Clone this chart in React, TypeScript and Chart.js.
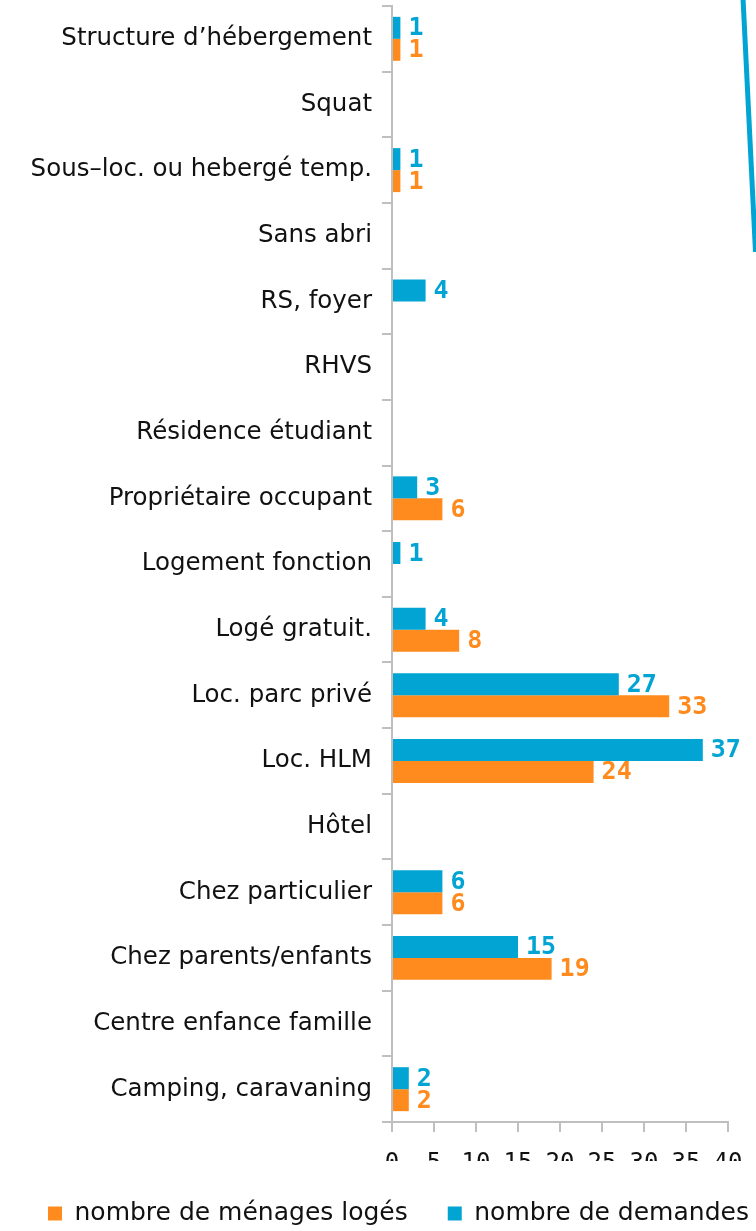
import React, { useEffect, useRef } from 'react';
import { Chart, registerables } from 'chart.js';

Chart.register(...registerables);

const categories = [
  'Structure d’hébergement',
  'Squat',
  'Sous–loc. ou hebergé temp.',
  'Sans abri',
  'RS, foyer',
  'RHVS',
  'Résidence étudiant',
  'Propriétaire occupant',
  'Logement fonction',
  'Logé gratuit.',
  'Loc. parc privé',
  'Loc. HLM',
  'Hôtel',
  'Chez particulier',
  'Chez parents/enfants',
  'Centre enfance famille',
  'Camping, caravaning',
];

const demandes = [1, 0, 1, 0, 4, 0, 0, 3, 1, 4, 27, 37, 0, 6, 15, 0, 2];
const menagesLoges = [1, 0, 1, 0, 0, 0, 0, 6, 0, 8, 33, 24, 0, 6, 19, 0, 2];

const seriesNames = ['nombre de demandes', 'nombre de ménages logés'];

const xMin = 0;
const xMax = 40;
const xStep = 5;

const BLUE = '#02A4D3';
const ORANGE = '#FF8B1E';
const AXIS_GRAY = '#BFBFBF';
const LABEL_FONT = '"DejaVu Sans", sans-serif';
const NUM_FONT = '"DejaVu Sans Mono", monospace';

const W = 880;
const H = 1236;

const valueLabels = {
  id: 'valueLabels',
  afterDatasetsDraw(chart: any) {
    const ctx = chart.ctx;
    ctx.save();
    ctx.font = `bold 25px ${NUM_FONT}`;
    ctx.textAlign = 'left';
    ctx.textBaseline = 'middle';
    chart.data.datasets.forEach((ds: any, di: number) => {
      const meta = chart.getDatasetMeta(di);
      meta.data.forEach((bar: any, i: number) => {
        const v = ds.data[i];
        if (!v) return;
        ctx.fillStyle = ds.backgroundColor;
        ctx.fillText(String(v), bar.x + 8, bar.y + 1);
      });
    });
    ctx.restore();
  },
};

const decoLine = {
  id: 'decoLine',
  afterDraw(chart: any) {
    const ctx = chart.ctx;
    ctx.save();
    ctx.strokeStyle = BLUE;
    ctx.lineWidth = 5;
    ctx.lineCap = 'butt';
    ctx.beginPath();
    ctx.moveTo(743, -2);
    ctx.lineTo(755.5, 252);
    ctx.stroke();
    ctx.restore();
  },
};

export default function App() {
  const ref = useRef<HTMLCanvasElement>(null);

  useEffect(() => {
    if (!ref.current) return;
    const chart = new Chart(ref.current, {
      type: 'bar',
      data: {
        labels: categories,
        datasets: [
          {
            label: seriesNames[0],
            data: demandes,
            backgroundColor: BLUE,
            borderWidth: 0,
            barPercentage: 1,
            categoryPercentage: 0.67,
          },
          {
            label: seriesNames[1],
            data: menagesLoges,
            backgroundColor: ORANGE,
            borderWidth: 0,
            barPercentage: 1,
            categoryPercentage: 0.67,
          },
        ],
      },
      options: {
        indexAxis: 'y',
        responsive: false,
        animation: false,
        devicePixelRatio: 1,
        layout: { padding: { top: 6, left: 8, right: 0, bottom: 0 } },
        plugins: {
          tooltip: { enabled: false },
          legend: {
            position: 'bottom',
            align: 'start',
            labels: {
              sort: (a: any, b: any) => b.datasetIndex - a.datasetIndex,
              boxWidth: 14,
              boxHeight: 14,
              padding: 40,
              color: '#111',
              font: { family: LABEL_FONT, size: 25 },
            },
          },
        },
        scales: {
          x: {
            min: xMin,
            max: xMax,
            ticks: {
              stepSize: xStep,
              color: '#111',
              font: { family: NUM_FONT, size: 24 },
              padding: 17,
              maxRotation: 0,
            },
            grid: {
              drawOnChartArea: false,
              tickLength: 10,
              color: AXIS_GRAY,
              lineWidth: 2,
            },
            border: { color: AXIS_GRAY, width: 2 },
            afterFit: (scale: any) => {
              scale.height = 39;
              scale.paddingRight = 152;
            },
          },
          y: {
            ticks: {
              color: '#111',
              font: { family: LABEL_FONT, size: 24.5 },
              padding: 10,
              autoSkip: false,
            },
            grid: {
              offset: true,
              drawOnChartArea: false,
              tickLength: 10,
              color: AXIS_GRAY,
              lineWidth: 2,
            },
            border: { color: AXIS_GRAY, width: 2 },
            afterFit: (scale: any) => {
              scale.width = 384;
              scale.paddingTop = 0;
              scale.paddingBottom = 0;
            },
          },
        },
      },
      plugins: [valueLabels, decoLine],
    });
    return () => chart.destroy();
  }, []);

  return (
    <div
      style={{
        position: 'fixed',
        left: 0,
        top: 0,
        width: 756,
        height: 1231,
        overflow: 'hidden',
        background: '#fff',
      }}
    >
      <canvas ref={ref} width={W} height={H} style={{ width: W, height: H, display: 'block' }} />
    </div>
  );
}
